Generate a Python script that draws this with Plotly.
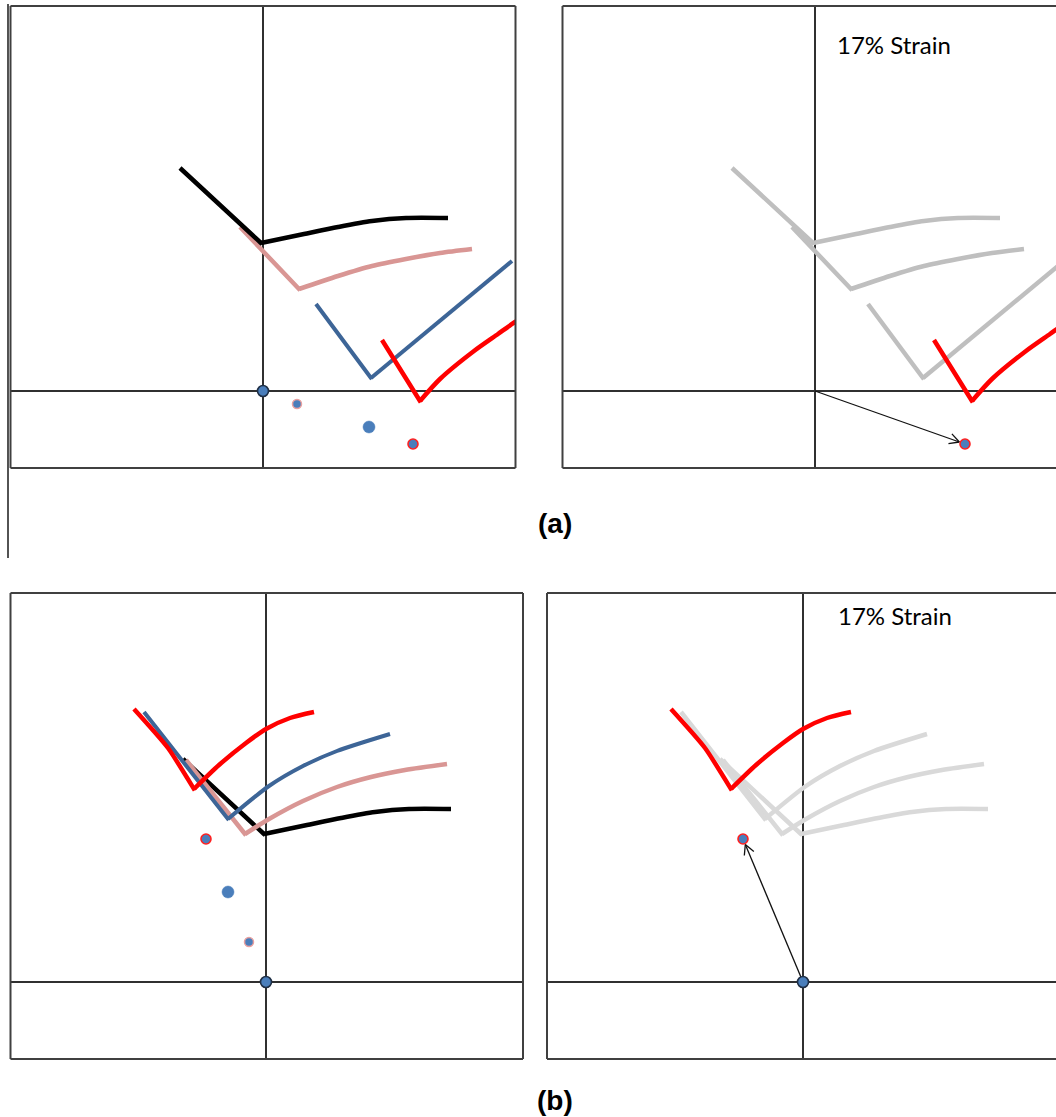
import math
import plotly.graph_objects as go

W, H = 1056, 1117

# ---------------- data (pixel units relative to each panel origin, y up) ----------------
# reference (black) curve, identical in (a) and (b)
black_x = [-83, -2, 41, 75, 109, 143, 185]
black_y = [223, 148, 157, 164, 170, 173, 173]

# (a) curves
a_pink_x = [-23, 36, 75, 109, 143, 177, 209]
a_pink_y = [164, 102, 115, 125, 132, 138, 142]
a_blue_x = [53, 108, 249]
a_blue_y = [87, 13, 130]
a_red_x = [119, 157, 177, 211, 235, 252, 262]
a_red_y = [51, -10, 12, 40, 57, 69, 75]
a_dots_x = [0, 34, 106, 150]
a_dots_y = [0, -13, -36, -53]

# (b) curves
b_pink_x = [-80, -21, 3, 37, 71, 105, 139, 181]
b_pink_y = [222, 148, 163, 181, 195, 205, 212, 218]
b_blue_x = [-122, -38, 3, 37, 71, 124]
b_blue_y = [270, 163, 196, 216, 231, 248]
b_red_x = [-132, -98, -72, -47, -20, 0, 24, 48]
b_red_y = [273, 234, 193, 217, 239, 253, 264, 270]
b_dots_x = [0, -17, -38, -60]
b_dots_y = [0, 40, 90, 143]

strain_label = "17% Strain"
panel_labels = ["(a)", "(b)"]

# ---------------- styling ----------------
C_BLACK = "#000000"
C_PINK = "#d99694"
C_BLUE = "#3d6597"
C_RED = "#ff0000"
C_GRAY_A = "#bfbfbf"
C_GRAY_B = "#d9d9d9"
DOT_FILL = "#4a7ebb"
BORDER = "#404040"
LW = 4.5

# panel boxes in page pixels: (left, right, top, bottom, origin_x, origin_y)
panels = {
    "A1": (10.5, 515.5, 6, 468, 263, 391),
    "A2": (562.5, 1056, 6, 468, 815, 391),
    "B1": (10.5, 523, 593, 1059, 266, 982),
    "B2": (547, 1056, 593, 1059, 803, 982),
}
axis_ids = {"A1": "", "A2": "2", "B1": "3", "B2": "4"}

fig = go.Figure()
layout = dict(
    width=W, height=H, margin=dict(l=0, r=0, t=0, b=0),
    paper_bgcolor="white", plot_bgcolor="white", showlegend=False,
)
shapes = []
for name, (l, r, t, b, ox, oy) in panels.items():
    k = axis_ids[name]
    ax_common = dict(showgrid=False, showticklabels=False, ticks="", showline=False,
                     zeroline=True, zerolinecolor="#303030", zerolinewidth=1.5, fixedrange=True)
    layout["xaxis" + k] = dict(domain=[l / W, r / W], range=[l - ox, r - ox],
                               anchor="y" + k, **ax_common)
    layout["yaxis" + k] = dict(domain=[1 - b / H, 1 - t / H], range=[oy - b, oy - t],
                               anchor="x" + k, **ax_common)
    xl, xr, yt, yb = l / W, r / W, 1 - t / H, 1 - b / H
    line = dict(color=BORDER, width=2)
    shapes.append(dict(type="line", xref="paper", yref="paper", x0=xl, x1=xl, y0=yb, y1=yt, line=line))
    shapes.append(dict(type="line", xref="paper", yref="paper", x0=xl, x1=xr, y0=yt, y1=yt, line=line))
    shapes.append(dict(type="line", xref="paper", yref="paper", x0=xl, x1=xr, y0=yb, y1=yb, line=line))
    if name in ("A1", "B1"):
        shapes.append(dict(type="line", xref="paper", yref="paper", x0=xr, x1=xr, y0=yb, y1=yt, line=line))

# stray page rule on the far left
shapes.append(dict(type="line", xref="paper", yref="paper", x0=8 / W, x1=8 / W,
                   y0=1 - 558 / H, y1=1 - 4 / H, line=dict(color="#1a1a1a", width=1.5)))
layout["shapes"] = shapes


def curve(k, xs, ys, color, width=LW):
    """Draw a V-shaped curve: descending limb and rising limb, each smoothed by the library."""
    v = min(range(len(ys)), key=lambda i: ys[i])
    # rising limb
    fig.add_trace(go.Scatter(x=xs[v:], y=ys[v:], mode="lines", xaxis="x" + k, yaxis="y" + k,
                             line=dict(color=color, width=width, shape="spline", smoothing=0.75),
                             hoverinfo="skip"))
    # descending limb, nudged slightly past the vertex to close the joint
    dx, dy = xs[v] - xs[v - 1], ys[v] - ys[v - 1]
    d = math.hypot(dx, dy)
    ext = width * 0.35
    dxs = xs[:v + 1] + [xs[v] + dx / d * ext]
    dys = ys[:v + 1] + [ys[v] + dy / d * ext]
    fig.add_trace(go.Scatter(x=dxs, y=dys, mode="lines", xaxis="x" + k, yaxis="y" + k,
                             line=dict(color=color, width=width, shape="spline", smoothing=0.6),
                             hoverinfo="skip"))


def dot_trace(k, xs, ys, sizes, outlines, widths):
    fig.add_trace(go.Scatter(x=xs, y=ys, mode="markers", xaxis="x" + k, yaxis="y" + k,
                             marker=dict(color=DOT_FILL, size=sizes, opacity=1,
                                         line=dict(color=outlines, width=widths)),
                             hoverinfo="skip"))


def arrow_trace(k, x0, y0, x1, y1, gap=6, head=11, ang=28):
    dx, dy = x1 - x0, y1 - y0
    d = math.hypot(dx, dy)
    ux, uy = dx / d, dy / d
    tx, ty = x1 - ux * gap, y1 - uy * gap
    a = math.radians(ang)
    xs = [x0, tx, None]
    ys = [y0, ty, None]
    for s in (1, -1):
        ca, sa = math.cos(s * a), math.sin(s * a)
        bx = -(ux * ca - uy * sa)
        by = -(ux * sa + uy * ca)
        xs += [tx, tx + bx * head, None]
        ys += [ty, ty + by * head, None]
    fig.add_trace(go.Scatter(x=xs, y=ys, mode="lines", xaxis="x" + k, yaxis="y" + k,
                             line=dict(color="#111111", width=1.3), hoverinfo="skip"))


# ---- panel A1
k = axis_ids["A1"]
curve(k, a_pink_x, a_pink_y, C_PINK)
curve(k, black_x, black_y, C_BLACK)
curve(k, a_blue_x, a_blue_y, C_BLUE, 4)
curve(k, a_red_x, a_red_y, C_RED)
dot_trace(k, a_dots_x, a_dots_y, [11, 9, 12, 10],
          ["#1f2f45", "#e8a0a0", DOT_FILL, "#ff2020"], [1.6, 1.5, 0.5, 1.6])

# ---- panel A2
k = axis_ids["A2"]
curve(k, black_x, black_y, C_GRAY_A)
curve(k, a_pink_x, a_pink_y, C_GRAY_A)
curve(k, a_blue_x, a_blue_y, C_GRAY_A)
curve(k, a_red_x, a_red_y, C_RED)
arrow_trace(k, 0, 0, a_dots_x[3], a_dots_y[3])
dot_trace(k, [a_dots_x[3]], [a_dots_y[3]], [10], ["#ff2020"], [1.6])

# ---- panel B1
k = axis_ids["B1"]
curve(k, black_x, black_y, C_BLACK)
curve(k, b_pink_x, b_pink_y, C_PINK)
curve(k, b_blue_x, b_blue_y, C_BLUE, 4)
curve(k, b_red_x, b_red_y, C_RED)
dot_trace(k, b_dots_x, b_dots_y, [11, 9, 12, 10],
          ["#1f2f45", "#e8a0a0", DOT_FILL, "#ff2020"], [1.6, 1.5, 0.5, 1.6])

# ---- panel B2
k = axis_ids["B2"]
curve(k, black_x, black_y, C_GRAY_B)
curve(k, b_pink_x, b_pink_y, C_GRAY_B)
curve(k, b_blue_x, b_blue_y, C_GRAY_B)
curve(k, b_red_x, b_red_y, C_RED)
arrow_trace(k, 0, 0, b_dots_x[3], b_dots_y[3])
dot_trace(k, [0, b_dots_x[3]], [0, b_dots_y[3]], [11, 10], ["#1f2f45", "#ff2020"], [1.6, 1.6])

# ---- texts
ann = []
ann.append(dict(x=835 / W, y=1 - 45 / H, xref="paper", yref="paper", text=strain_label,
                showarrow=False, xanchor="left", yanchor="middle",
                font=dict(family="Lato", size=24, color="#000000")))
ann.append(dict(x=836 / W, y=1 - 615 / H, xref="paper", yref="paper", text=strain_label,
                showarrow=False, xanchor="left", yanchor="middle",
                font=dict(family="Lato", size=24, color="#000000")))
ann.append(dict(x=555 / W, y=1 - 523 / H, xref="paper", yref="paper", text="<b>" + panel_labels[0] + "</b>",
                showarrow=False, xanchor="center", yanchor="middle",
                font=dict(family="Liberation Sans", size=28, color="#000000")))
ann.append(dict(x=555 / W, y=1 - 1100 / H, xref="paper", yref="paper", text="<b>" + panel_labels[1] + "</b>",
                showarrow=False, xanchor="center", yanchor="middle",
                font=dict(family="Liberation Sans", size=28, color="#000000")))
layout["annotations"] = ann

fig.update_layout(**layout)
fig.write_html("out.html")
